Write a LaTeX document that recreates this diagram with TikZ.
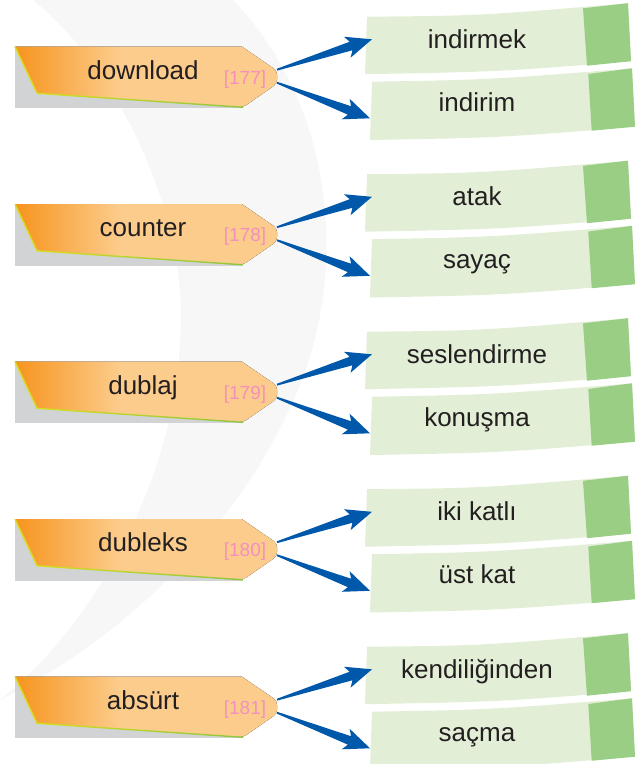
\documentclass[tikz,border=0pt]{standalone}
\usepackage{fontspec}
\setmainfont{Liberation Sans}
\usetikzlibrary{calc}
\definecolor{srcorange}{RGB}{247,148,29}
\definecolor{srcpeach}{RGB}{252,204,140}
\definecolor{shadowgray}{RGB}{209,211,212}
\definecolor{edgeyellow}{RGB}{215,223,35}
\definecolor{edgegreen}{RGB}{141,198,63}
\definecolor{boxlight}{RGB}{226,239,214}
\definecolor{boxdark}{RGB}{153,206,132}
\definecolor{arrowblue}{RGB}{0,88,170}
\definecolor{numpink}{RGB}{244,144,190}
\definecolor{inkdark}{RGB}{35,31,32}
\definecolor{swoosh}{RGB}{247,247,247}
\pgfdeclarehorizontalshading{srcshade}{100bp}{color(0bp)=(srcorange); color(25bp)=(srcorange); color(45bp)=(srcpeach); color(100bp)=(srcpeach)}
\tikzset{
  wordlbl/.style = {font=\fontsize{26}{30}\selectfont, text=inkdark,
                    anchor=base, inner sep=0pt},
  numlbl/.style  = {font=\fontsize{19}{22}\selectfont, text=numpink,
                    anchor=base, inner sep=0pt},
  srcfill/.style = {shading=srcshade},
  boxfill/.style = {fill=boxlight},
  tabfill/.style = {fill=boxdark}
}
% tapered blue arrow from #1 to #2
\newcommand\taper[2]{%
  \path ($(#2)!22pt!(#1)$) coordinate (hb) ($(#2)!26pt!(#1)$) coordinate (wb);
  \fill[arrowblue] ($(#1)!0.9pt!90:(#2)$) -- ($(hb)!4.5pt!-90:(#1)$)
    -- ($(wb)!11pt!-90:(#1)$) -- (#2) -- ($(wb)!11pt!90:(#1)$)
    -- ($(hb)!4.5pt!90:(#1)$) -- ($(#1)!0.9pt!-90:(#2)$) -- cycle;
}

\begin{document}
\begin{tikzpicture}[x=1pt,y=-1pt]
  \useasboundingbox (0,0) rectangle (643,764);
  % faint background swoosh
  \fill[swoosh] (233,0) .. controls (330,100) and (350,260) .. (300,385)
     .. controls (250,510) and (140,630) .. (0,700)
     .. controls (100,620) and (176,470) .. (180,340)
     .. controls (190,220) and (120,70) .. (33,0) -- cycle;
  \foreach \w/\num/\a/\b [count=\i from 0] in {download/177/indirmek/indirim,
      counter/178/atak/sayaç, dublaj/179/seslendirme/konuşma,
      dubleks/180/iki katlı/üst kat, absürt/181/kendiliğinden/saçma} {
    \pgfmathsetmacro\T{46.7+157.5*\i}
    % source word
    \fill[shadowgray] (15,\T) rectangle (243,\T+61.6);
    \fill[srcfill] (15,\T) -- (242,\T) [rounded corners=4pt] -- (277,\T+24)
      -- (277,\T+37) -- (243,\T+60.6) [sharp corners] -- (37,\T+46.6) -- cycle;
    \draw[edgeyellow,line width=1.4pt] (15,\T) -- (37,\T+46.6);
    \shade[left color=edgeyellow,right color=edgegreen] (37,\T+45.9)
      -- (243,\T+59.9) -- (243,\T+61.3) -- (37,\T+47.3) -- cycle;
    \node[wordlbl] (w\i) at (143,\T+32.6) {\w};
    \node[numlbl]  (n\i) at (245,\T+37.3) {[\num]};
    \coordinate (su\i) at (277,\T+23);
    \coordinate (sd\i) at (277,\T+36);
    % two meanings
    \fill[boxfill] (367,\T-30) .. controls (480,\T-31) .. (628,\T-43.5)
      -- (631,\T+14.5) .. controls (500,\T+25) .. (365,\T+27.5) -- cycle;
    \fill[tabfill] (583,\T-38.4) -- (628,\T-43.5) -- (631,\T+14.5)
      -- (587,\T+19) -- cycle;
    \fill[boxfill] (372,\T+35) .. controls (490,\T+33) .. (632,\T+21.6)
      -- (635,\T+80) .. controls (500,\T+91) .. (370,\T+93.3) -- cycle;
    \fill[tabfill] (588.3,\T+27.3) -- (632,\T+21.6) -- (635,\T+80)
      -- (591.7,\T+84) -- cycle;
    \node[wordlbl] (a\i) at (477,\T+1.6) {\a};
    \node[wordlbl] (b\i) at (477,\T+64.3) {\b};
    \coordinate (eu\i) at (372,\T-7.4);
    \coordinate (ed\i) at (370,\T+71.6);
    \taper{su\i}{eu\i}
    \taper{sd\i}{ed\i}
  }
\end{tikzpicture}
\end{document}
